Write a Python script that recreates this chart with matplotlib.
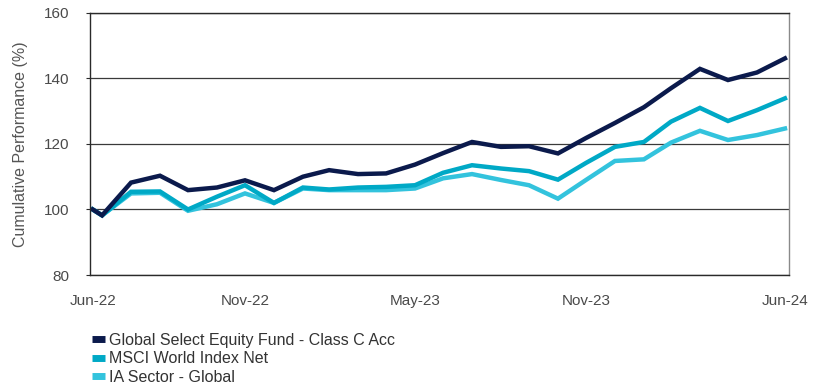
import numpy as np
import matplotlib.pyplot as plt
import matplotlib.dates as mdates
import pandas as pd

plt.rcParams['font.family'] = ['Liberation Sans', 'DejaVu Sans']

# Month-end valuation points, plus the launch date at the start
dates = pd.to_datetime(['2022-06-20'] + [str(d.date()) for d in
                        pd.date_range('2022-06-30', '2024-06-30', freq='ME')])

fund  = [100.0, 98.2, 108.2, 110.3, 105.9, 106.7, 108.9, 105.9, 110.0, 112.0,
         110.8, 111.0, 113.7, 117.2, 120.6, 119.1, 119.3, 117.1, 121.8, 126.4,
         131.2, 137.0, 142.9, 139.5, 141.8, 146.1]
msci  = [100.0, 98.2, 105.4, 105.5, 100.0, 103.9, 107.4, 102.0, 106.7, 106.1,
         106.7, 106.9, 107.4, 111.2, 113.5, 112.5, 111.7, 109.1, 114.2, 119.1,
         120.6, 126.8, 131.0, 127.0, 130.3, 133.9]
sector = [100.0, 98.2, 104.9, 105.1, 99.6, 101.6, 104.9, 102.0, 106.4, 105.9,
          105.9, 105.9, 106.4, 109.5, 110.8, 109.0, 107.4, 103.3, 109.0, 114.8,
          115.3, 120.4, 124.0, 121.2, 122.7, 124.7]

names  = ['Global Select Equity Fund - Class C Acc', 'MSCI World Index Net', 'IA Sector - Global']
colors = ['#0b1a4c', '#00a9c6', '#33c3dd']
tick_idx = [0, 6, 12, 18, 25]

fig = plt.figure(figsize=(8.25, 3.89), dpi=100)
ax = fig.add_axes([0.109, 0.293, 0.847, 0.674])

# draw the lighter lines first so the fund line sits on top
for series, name, col in reversed(list(zip([fund, msci, sector], names, colors))):
    ax.plot(dates, series, color=col, lw=3.2, label=name, solid_joinstyle='miter')

ax.set_ylim(80, 160)
ax.set_yticks([80, 100, 120, 140, 160])
ax.set_xlim(pd.Timestamp('2022-06-17'), pd.Timestamp('2024-07-04'))
ax.set_xticks(dates[tick_idx])
ax.xaxis.set_major_formatter(mdates.DateFormatter('%b-%y'))

ax.grid(axis='y', color='#3a3a3a', lw=0.9)
ax.set_axisbelow(True)
for side in ['left', 'bottom', 'top']:
    ax.spines[side].set_color('#2a2a2a')
    ax.spines[side].set_linewidth(1.0)
ax.spines['right'].set_color('#8a8a8a')
ax.spines['right'].set_linewidth(1.0)

ax.tick_params(axis='y', length=3, color='#2a2a2a', labelsize=11, labelcolor='#4a4a4a', pad=11.5)
ax.tick_params(axis='x', length=0, labelsize=11, labelcolor='#4a4a4a', pad=13.5)
ax.set_ylabel('Cumulative Performance (%)', fontsize=11.5, color='#555555', labelpad=12)

handles, labels = ax.get_legend_handles_labels()
leg = fig.legend(handles[::-1], labels[::-1], loc='upper left', bbox_to_anchor=(0.111, 0.145),
                 frameon=False, fontsize=11.5, handlelength=0.85, handletextpad=0.25,
                 labelspacing=0.22, borderpad=0, borderaxespad=0)
for line in leg.get_lines():
    line.set_linewidth(5)
    line.set_solid_capstyle('butt')
for t in leg.get_texts():
    t.set_color('#333333')

fig.savefig('out.png', dpi=100)
